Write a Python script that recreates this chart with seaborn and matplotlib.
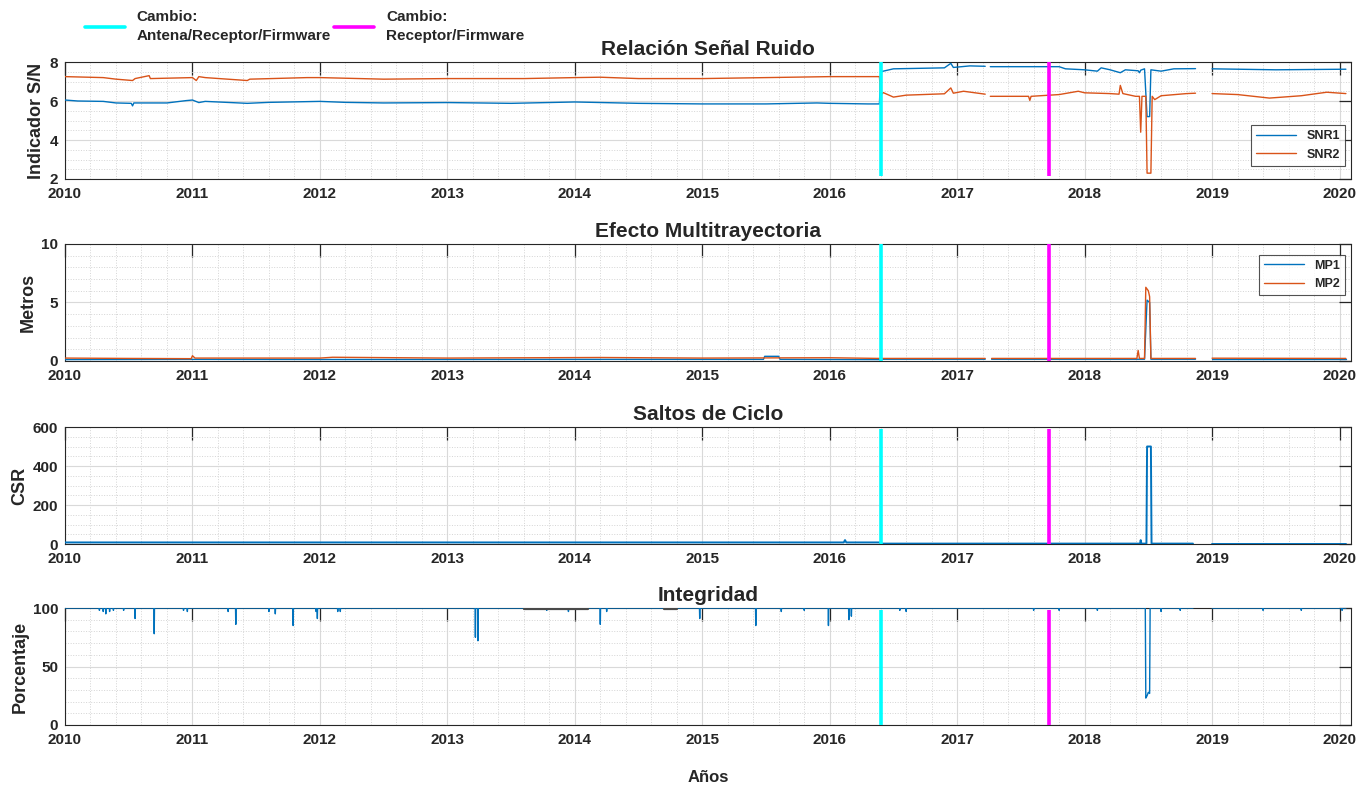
import numpy as np
import pandas as pd
import seaborn as sns
import matplotlib.pyplot as plt
from matplotlib.lines import Line2D
from matplotlib.ticker import MultipleLocator

# --- data (decimal years, nan = gap) ---
nan = np.nan

snr1_t = [2010.00, 2010.10, 2010.30, 2010.40, 2010.52, 2010.53, 2010.54, 2010.80, 2010.95, 2011.00,
          2011.05, 2011.10, 2011.30, 2011.43, 2011.60, 2012.00, 2012.20, 2012.50, 2013.00, 2013.50,
          2014.00, 2014.50, 2015.00, 2015.50, 2015.90, 2016.00, 2016.30, 2016.39, 2016.40, 2016.42,
          2016.50, 2016.90, 2016.95, 2016.97, 2017.10, 2017.22, 2017.23, 2017.26, 2017.80, 2017.85,
          2018.00, 2018.10, 2018.13, 2018.20, 2018.28, 2018.32, 2018.42, 2018.43, 2018.44, 2018.47,
          2018.49, 2018.51, 2018.52, 2018.60, 2018.70, 2018.87, 2018.93, 2019.00, 2019.50, 2020.05]
snr1_v = [6.05, 6.00, 5.98, 5.90, 5.88, 5.75, 5.90, 5.90, 6.02, 6.05,
          5.92, 5.98, 5.92, 5.88, 5.93, 5.98, 5.93, 5.90, 5.92, 5.88,
          5.95, 5.88, 5.85, 5.85, 5.90, 5.88, 5.85, 5.85, 7.50, 7.53,
          7.65, 7.70, 7.93, 7.72, 7.80, 7.78, nan, 7.76, 7.76, 7.65,
          7.60, 7.53, 7.70, 7.60, 7.45, 7.60, 7.55, 7.45, 7.58, 7.65,
          5.20, 5.20, 7.60, 7.53, 7.65, 7.66, nan, 7.65, 7.60, 7.63]

snr2_t = [2010.00, 2010.30, 2010.40, 2010.53, 2010.55, 2010.66, 2010.67, 2011.00, 2011.03, 2011.05,
          2011.10, 2011.43, 2011.45, 2011.90, 2012.00, 2012.50, 2013.00, 2013.60, 2014.00, 2014.20,
          2014.50, 2015.00, 2015.50, 2016.00, 2016.39, 2016.40, 2016.42, 2016.50, 2016.60, 2016.90,
          2016.95, 2016.97, 2017.05, 2017.22, 2017.23, 2017.26, 2017.56, 2017.57, 2017.58, 2017.80,
          2017.95, 2018.00, 2018.20, 2018.27, 2018.28, 2018.30, 2018.40, 2018.43, 2018.44, 2018.45,
          2018.48, 2018.49, 2018.52, 2018.53, 2018.55, 2018.60, 2018.80, 2018.87, 2018.93, 2019.00,
          2019.20, 2019.45, 2019.70, 2019.90, 2020.05]
snr2_v = [7.25, 7.20, 7.12, 7.05, 7.15, 7.30, 7.15, 7.20, 7.05, 7.25,
          7.20, 7.05, 7.12, 7.20, 7.20, 7.12, 7.15, 7.15, 7.20, 7.22,
          7.15, 7.15, 7.20, 7.25, 7.25, 6.30, 6.43, 6.20, 6.30, 6.37,
          6.67, 6.40, 6.50, 6.35, nan, 6.24, 6.24, 6.03, 6.24, 6.33,
          6.50, 6.42, 6.38, 6.35, 6.80, 6.38, 6.24, 6.24, 4.40, 6.24,
          6.24, 2.30, 2.30, 6.24, 6.07, 6.27, 6.38, 6.40, nan, 6.38,
          6.33, 6.15, 6.27, 6.45, 6.38]

mp1_t = [2010.00, 2011.00, 2012.00, 2013.00, 2014.00, 2015.48, 2015.49, 2015.60, 2015.61, 2016.39,
         2016.40, 2017.22, 2017.23, 2017.27, 2018.47, 2018.49, 2018.51, 2018.52, 2018.87, 2018.93,
         2019.00, 2020.05]
mp1_v = [0.12, 0.14, 0.13, 0.13, 0.14, 0.14, 0.40, 0.40, 0.14, 0.12,
         0.15, 0.15, nan, 0.15, 0.15, 5.20, 5.00, 0.15, 0.15, nan,
         0.14, 0.14]

mp2_t = [2010.00, 2010.50, 2010.99, 2011.00, 2011.02, 2012.00, 2012.10, 2013.00, 2014.20, 2015.00,
         2016.00, 2016.39, 2016.40, 2017.22, 2017.23, 2017.27, 2018.41, 2018.42, 2018.43, 2018.47,
         2018.48, 2018.50, 2018.51, 2018.52, 2018.87, 2018.93, 2019.00, 2020.05]
mp2_v = [0.25, 0.22, 0.20, 0.45, 0.25, 0.25, 0.32, 0.25, 0.30, 0.25,
         0.28, 0.22, 0.22, 0.22, nan, 0.22, 0.22, 0.90, 0.22, 0.22,
         6.30, 6.00, 5.50, 0.22, 0.22, nan, 0.24, 0.22]

csr_t = [2010.00, 2011.00, 2012.00, 2013.00, 2014.00, 2015.00, 2016.11, 2016.12, 2016.13, 2016.39,
         2016.40, 2017.00, 2018.00, 2018.435, 2018.44, 2018.445, 2018.485, 2018.49, 2018.52, 2018.525,
         2018.85, 2018.93, 2019.00, 2020.05]
csr_v = [8, 8, 8, 8, 8, 8, 8, 20, 8, 8,
         2, 2, 2, 2, 20, 2, 2, 500, 500, 2,
         2, nan, 2, 2]

# integrity: baseline 100 with daily drops (date, value)
dip_t = [2010.27, 2010.30, 2010.32, 2010.35, 2010.38, 2010.46, 2010.55, 2010.70, 2010.93, 2010.96,
         2011.28, 2011.34, 2011.60, 2011.65, 2011.79, 2011.97, 2011.98, 2012.14, 2012.16, 2013.22,
         2013.24, 2013.78, 2013.95, 2014.20, 2014.25, 2014.98, 2015.42, 2015.62, 2015.80, 2015.99,
         2016.15, 2016.17, 2016.55, 2016.60, 2017.60, 2017.80, 2018.10, 2018.60, 2018.75, 2019.40,
         2019.70, 2020.02]
dip_v = [98, 97, 95, 97, 98, 98, 91, 78, 98, 97,
         97, 86, 97, 95, 85, 97, 91, 97, 97, 75,
         72, 98, 97, 86, 97, 91, 85, 97, 98, 85,
         90, 93, 98, 97, 98, 98, 98, 97, 98, 98,
         98, 98]
integ_gap = (2018.85, 2019.00)
drop_t = [2018.48, 2018.49, 2018.50, 2018.51]
drop_v = [23, 25, 28, 27]

integ2_t = [2013.60, 2014.10, 2014.12, 2014.70, 2014.80]
integ2_v = [99.4, 99.4, nan, 99.4, 99.4]

change1 = 2016.40   # antenna / receiver / firmware
change2 = 2017.72   # receiver / firmware

year_ticks = list(range(2010, 2021))

blue = '#0072BD'
orange = '#D95319'


def frame(t, v, name):
    df = pd.DataFrame({'year': t, 'value': v})
    df['seg'] = df['value'].isna().cumsum()
    df['series'] = name
    return df.dropna()


def integrity_points():
    # baseline 100 with each read dip drawn as a one-day spike
    t, v = [2010.0], [100]
    for d, val in zip(dip_t, dip_v):
        if d > integ_gap[0] and t[-1] < integ_gap[0]:
            t += [integ_gap[0], integ_gap[0] + 0.001, integ_gap[1]]
            v += [100, nan, 100]
        if d == 2018.60:
            t += [drop_t[0] - 0.004] + drop_t + [drop_t[-1] + 0.004]
            v += [100] + drop_v + [100]
        t += [d - 0.002, d, d + 0.002]
        v += [100, val, 100]
    t.append(2020.05)
    v.append(100)
    return t, v


def style_axes(ax, ylim, ymajor, yminor, title, ylabel):
    ax.set_xlim(2010, 2020.09)
    ax.set_ylim(*ylim)
    ax.set_xticks(year_ticks)
    ax.xaxis.set_minor_locator(MultipleLocator(0.2))
    ax.yaxis.set_major_locator(MultipleLocator(ymajor))
    ax.yaxis.set_minor_locator(MultipleLocator(yminor))
    ax.grid(which='major', color='#d9d9d9', linewidth=0.8, linestyle='-')
    ax.grid(which='minor', color='#d4d4d4', linewidth=0.7, linestyle=':')
    ax.set_axisbelow(True)
    ax.tick_params(which='major', direction='in', length=9, width=0.9, top=True, right=True,
                   labelsize=11, colors='#262626')
    ax.tick_params(axis='x', which='major', pad=6)
    ax.tick_params(axis='y', which='major', pad=5)
    ax.tick_params(which='minor', length=0)
    for lab in ax.get_xticklabels() + ax.get_yticklabels():
        lab.set_fontweight('bold')
    for s in ax.spines.values():
        s.set_color('#262626')
        s.set_linewidth(0.8)
        s.set_zorder(1)
    ax.set_title(title, fontsize=15, fontweight='bold', pad=5)
    ax.set_ylabel(ylabel, fontsize=13, fontweight='bold', labelpad=3)
    ax.set_xlabel('')


def change_lines(ax, lo, hi):
    ax.vlines(change1, lo, hi, color='#00FFFF', linewidth=2.6, zorder=5)
    ax.vlines(change2, lo, hi, color='#FF00FF', linewidth=2.6, zorder=5)


def draw(ax, df, palette, lw=1.0, legend=False):
    sns.lineplot(data=df, x='year', y='value', hue='series', units='seg', estimator=None,
                 palette=palette, linewidth=lw, ax=ax, legend=legend, zorder=3)


sns.set_theme(style='white')
plt.rcParams['font.family'] = ['Liberation Sans', 'DejaVu Sans']

fig = plt.figure(figsize=(13.67, 7.89), dpi=100)
W, H = 1367, 789
left, right = 65 / W, 1351 / W
tops = [62, 244, 427, 608]
height = 117
axes = [fig.add_axes([left, 1 - (t + height) / H, right - left, height / H]) for t in tops]

# --- Relación Señal Ruido ---
ax = axes[0]
snr = pd.concat([frame(snr1_t, snr1_v, 'SNR1'), frame(snr2_t, snr2_v, 'SNR2')])
draw(ax, snr, {'SNR1': blue, 'SNR2': orange}, legend='auto')
change_lines(ax, 2.15, 8.0)
style_axes(ax, (2, 8), 2, 0.5, 'Relación Señal Ruido', 'Indicador S/N')
leg = ax.legend(loc='lower right', bbox_to_anchor=(1.0, 0.06), frameon=True, fancybox=False,
                edgecolor='#262626', handlelength=3.2, borderpad=0.4,
                prop={'weight': 'bold', 'size': 9})
leg.get_frame().set_linewidth(0.8)

# --- Efecto Multitrayectoria ---
ax = axes[1]
mp = pd.concat([frame(mp1_t, mp1_v, 'MP1'), frame(mp2_t, mp2_v, 'MP2')])
draw(ax, mp, {'MP1': blue, 'MP2': orange}, legend='auto')
change_lines(ax, 0, 10)
style_axes(ax, (0, 10), 5, 1, 'Efecto Multitrayectoria', 'Metros')
leg = ax.legend(loc='lower right', bbox_to_anchor=(1.0, 0.51), frameon=True, fancybox=False,
                edgecolor='#262626', handlelength=3.2, borderpad=0.4,
                prop={'weight': 'bold', 'size': 9})
leg.get_frame().set_linewidth(0.8)

# --- Saltos de Ciclo ---
ax = axes[2]
draw(ax, frame(csr_t, csr_v, 'CSR'), {'CSR': blue}, lw=1.4)
change_lines(ax, 0, 590)
style_axes(ax, (0, 600), 200, 50, 'Saltos de Ciclo', 'CSR')

# --- Integridad ---
ax = axes[3]
it, iv = integrity_points()
draw(ax, frame(it, iv, 'Integridad'), {'Integridad': blue}, lw=1.0)
draw(ax, frame(integ2_t, integ2_v, 'Integridad2'), {'Integridad2': '#4a4a4a'}, lw=1.6)
change_lines(ax, 0, 98)
style_axes(ax, (0, 100), 50, 10, 'Integridad', 'Porcentaje')

fig.text((left + right) / 2, 1 - 778 / H, 'Años', ha='center', va='center',
         fontsize=12, fontweight='bold')

# change legend on top
handles = [Line2D([], [], color='#00FFFF', linewidth=2.6),
           Line2D([], [], color='#FF00FF', linewidth=2.6)]
top_leg = fig.legend(handles, ['Cambio:\nAntena/Receptor/Firmware', 'Cambio:\nReceptor/Firmware'],
                     loc='upper left', bbox_to_anchor=(0.052, 1.005), ncol=2, frameon=False,
                     handlelength=2.6, columnspacing=0.2, prop={'weight': 'bold', 'size': 11})
for txt in top_leg.get_texts():
    txt.set_linespacing(1.5)

fig.savefig('out.png', dpi=100)
